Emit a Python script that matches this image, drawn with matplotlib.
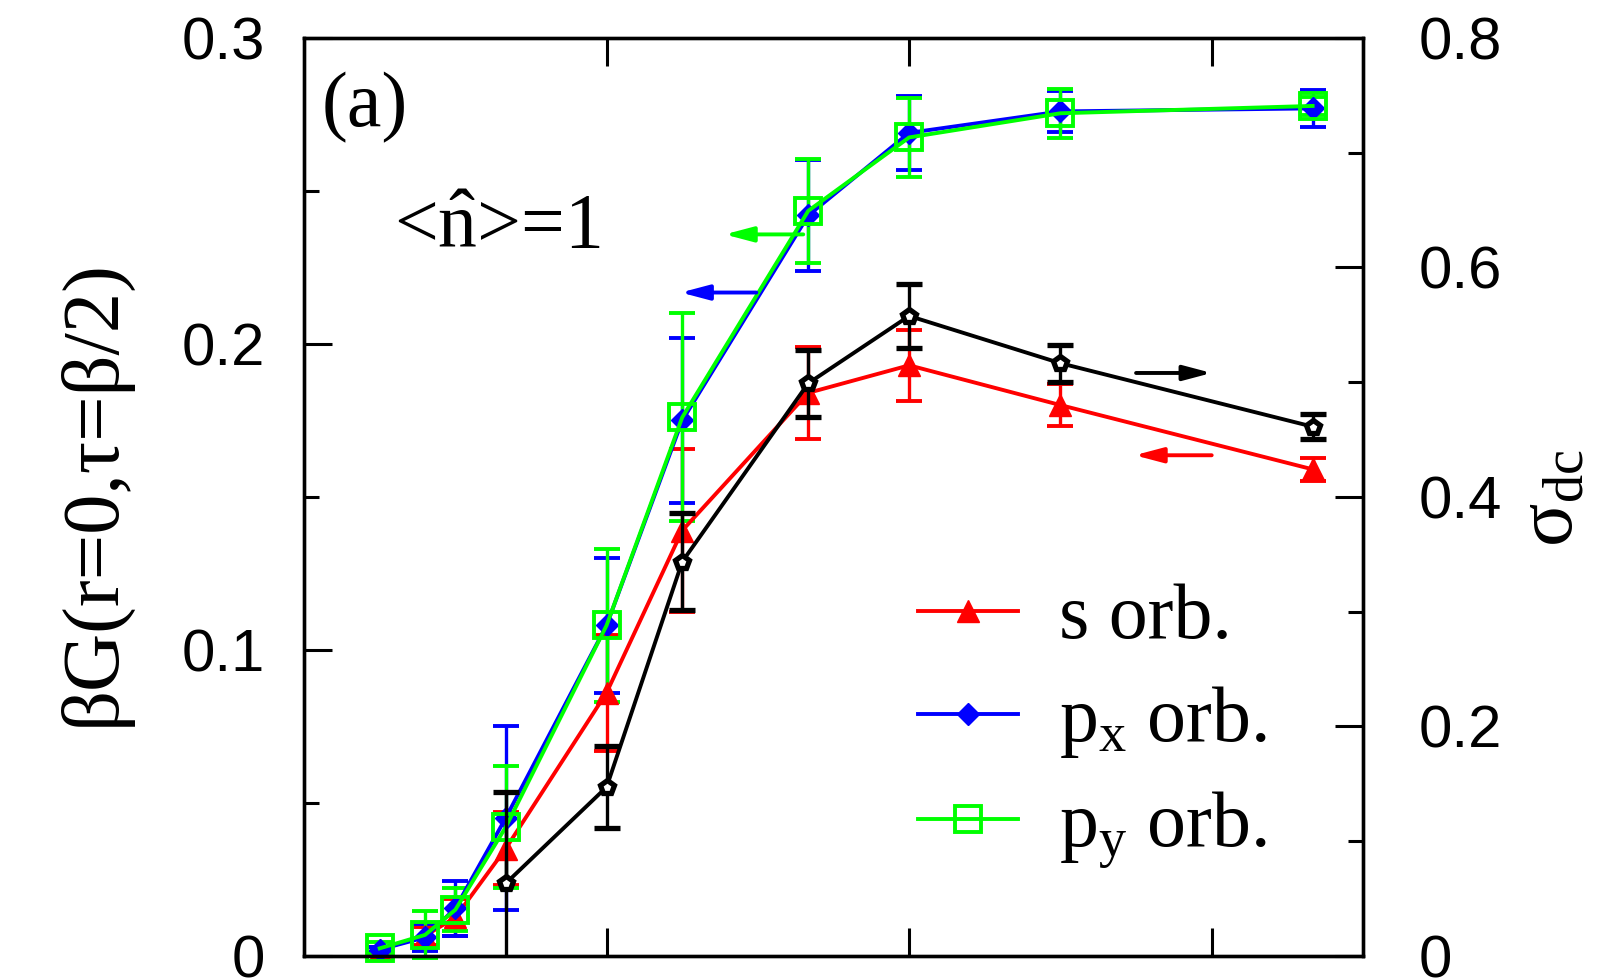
import matplotlib.pyplot as plt
from matplotlib.ticker import FixedLocator, MultipleLocator, NullLocator, FuncFormatter

plt.rcParams['font.family'] = 'Liberation Sans'
plt.rcParams['mathtext.fontset'] = 'custom'
plt.rcParams['mathtext.rm'] = 'Liberation Serif'
plt.rcParams['mathtext.it'] = 'Liberation Serif:italic'
SERIF = 'Liberation Serif'

# inverse temperature beta
beta = [0.5, 0.8, 1.0, 1.333, 2.0, 2.5, 3.333, 4.0, 5.0, 6.667]

# beta*G(r=0, tau=beta/2), left axis
g_s = [0.002, 0.0065, 0.0125, 0.035, 0.086, 0.139, 0.184, 0.193, 0.180, 0.159]
g_s_err = [0.001, 0.003, 0.006, 0.012, 0.019, 0.0265, 0.015, 0.0116, 0.0068, 0.0037]
g_px = [0.002, 0.006, 0.0155, 0.045, 0.108, 0.175, 0.242, 0.269, 0.276, 0.277]
g_px_err = [0.001, 0.0045, 0.009, 0.030, 0.022, 0.027, 0.018, 0.012, 0.0067, 0.006]
g_py = [0.0024, 0.0068, 0.015, 0.042, 0.108, 0.176, 0.2435, 0.2675, 0.2754, 0.2778]
g_py_err = [0.002, 0.0077, 0.007, 0.020, 0.025, 0.034, 0.017, 0.013, 0.008, 0.003]

# sigma_dc, right axis
beta_sig = [1.333, 2.0, 2.5, 3.333, 4.0, 5.0, 6.667]
sig = [0.063, 0.147, 0.3435, 0.499, 0.5577, 0.5165, 0.4612]
sig_err = [0.08, 0.036, 0.042, 0.029, 0.028, 0.016, 0.011]

RED, BLUE, GREEN = '#FF0000', '#0000FF', '#00FF00'

fig = plt.figure(figsize=(16.13, 9.8), dpi=100)
ax = fig.add_axes([0.1885, 0.0248, 0.6565, 0.9364])
ax2 = ax.twinx()

kw = dict(lw=2.8, elinewidth=2.4, capsize=9.6, capthick=2.8, clip_on=False)
c1 = ax.errorbar(beta, g_s, yerr=g_s_err, color=RED, marker='^', ms=16, **kw)
c2 = ax.errorbar(beta, g_px, yerr=g_px_err, color=BLUE, marker='D', ms=11.5, **kw)
c3 = ax.errorbar(beta, g_py, yerr=g_py_err, color=GREEN, marker='s', ms=19,
                 mfc='none', mew=2.8, **kw)
ax2.errorbar(beta_sig, sig, yerr=sig_err, color='black', marker='p', ms=10,
             mfc='white', mew=3.8, lw=2.8, elinewidth=2.4, capsize=9.6, capthick=2.8)

ax.set_xlim(0, 7)
ax.set_ylim(0, 0.3)
ax2.set_ylim(0, 0.8)

fmt = FuncFormatter(lambda v, _: '0' if abs(v) < 1e-9 else f'{v:g}')
ax.xaxis.set_major_locator(FixedLocator([2, 4, 6]))
ax.xaxis.set_minor_locator(NullLocator())
ax.yaxis.set_major_locator(MultipleLocator(0.1))
ax.yaxis.set_minor_locator(MultipleLocator(0.05))
ax.yaxis.set_major_formatter(fmt)
ax2.yaxis.set_major_locator(MultipleLocator(0.2))
ax2.yaxis.set_minor_locator(MultipleLocator(0.1))
ax2.yaxis.set_major_formatter(fmt)

ax.tick_params(axis='both', which='both', direction='in', width=2.2,
               top=True, right=False, labelbottom=False, labelsize=43, pad=28)
ax.tick_params(which='major', length=20)
ax.tick_params(which='minor', length=11)
ax2.tick_params(axis='y', which='both', direction='in', width=2.2,
                labelsize=43, pad=40)
ax2.tick_params(which='major', length=20)
ax2.tick_params(which='minor', length=11)
for a in (ax, ax2):
    for s in a.spines.values():
        s.set_linewidth(2.4)

# arrows pointing to the relevant axis
arrows = [((3.30, 0.2358), (2.78, 0.2358), GREEN),
          ((2.99, 0.2168), (2.49, 0.2168), BLUE),
          ((5.50, 0.1905), (6.00, 0.1905), 'black'),
          ((6.00, 0.1636), (5.49, 0.1636), RED)]
for tail, tip, col in arrows:
    ax.annotate('', xy=tip, xytext=tail,
                arrowprops=dict(arrowstyle='-|>,head_length=1.7,head_width=0.45',
                                color=col, lw=2.8, shrinkA=0, shrinkB=0,
                                mutation_scale=10))

ax.text(0.0166, 0.904, '(a)', transform=ax.transAxes, family=SERIF,
        fontsize=56, ha='left', va='baseline')
ax.text(0.0849, 0.7715, '<$\\hat{\\rm n}$>=1', transform=ax.transAxes, family=SERIF,
        fontsize=56, ha='left', va='baseline')

ax.legend([c1[0], c2[0], c3[0]],
          ['s orb.', 'p$_{\\rm x}$ orb.', 'p$_{\\rm y}$ orb.'],
          loc='center left', bbox_to_anchor=(0.58, 0.249), frameon=False,
          prop=dict(family=SERIF, size=56), handlelength=1.28,
          handletextpad=0.53, labelspacing=0.37, borderpad=0, borderaxespad=0)

fig.text(0.0583, 0.497, '\u03b2G(r=0,\u03c4=\u03b2/2)', rotation=90, family=SERIF,
         fontsize=58, ha='center', va='center')
fig.text(0.963, 0.492, '\u03c3$_{\\rm dc}$', rotation=90, family=SERIF,
         fontsize=58, ha='center', va='center')

fig.savefig('out.png', dpi=100)
